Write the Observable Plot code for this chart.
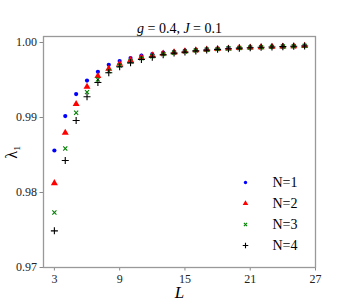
<!DOCTYPE html>
<html><head><meta charset="utf-8">
<script src="https://cdn.jsdelivr.net/npm/d3@7"></script>
<script src="https://cdn.jsdelivr.net/npm/@observablehq/plot@0.6"></script>
<style>body{margin:0;background:#fff} svg{font-family:"Liberation Serif",serif}</style>
</head><body><div id="chart"></div>
<script>
const Ls = [3,4,5,6,7,8,9,10,11,12,13,14,15,16,17,18,19,20,21,22,23,24,25,26];
const n1 = [0.98560,0.99019,0.99312,0.99493,0.99609,0.99703,0.99752,0.99792,0.99827,0.99845,0.99867,0.99876,0.99893,0.99902,0.99910,0.99918,0.99925,0.99930,0.99935,0.99940,0.99944,0.99948,0.99952,0.99957];
const n2 = [0.98125,0.98796,0.99179,0.99409,0.99552,0.99649,0.99717,0.99765,0.99803,0.99828,0.99853,0.99868,0.99884,0.99896,0.99905,0.99914,0.99921,0.99928,0.99933,0.99938,0.99942,0.99946,0.99951,0.99955];
const n3 = [0.97733,0.98587,0.99063,0.99339,0.99507,0.99619,0.99693,0.99748,0.99788,0.99817,0.99845,0.99863,0.99878,0.99893,0.99903,0.99912,0.99920,0.99927,0.99932,0.99937,0.99942,0.99946,0.99950,0.99955];
const n4 = [0.97489,0.98427,0.98960,0.99276,0.99467,0.99596,0.99676,0.99729,0.99773,0.99805,0.99836,0.99859,0.99872,0.99888,0.99899,0.99909,0.99917,0.99925,0.99931,0.99936,0.99941,0.99945,0.99950,0.99954];
const seriesNames = ["N=1","N=2","N=3","N=4"];
const xTicks = [3,9,15,21,27];
const yTicks = [0.97,0.98,0.99,1.00];
const titleText = "g = 0.4, J = 0.1";

const seriesValues = [n1,n2,n3,n4];
const colors = ["#0000ff","#ff0000","#008000","#000000"];
const symbols = ["circle","triangle","times","plus"];
const filled = [true,true,false,false];
const radii = [2.1,2.6,2.0,2.4];

const data = seriesNames.flatMap((s,i)=>Ls.map((L,j)=>({series:s, L, v:seriesValues[i][j]})));

const marks = [];
seriesNames.forEach((s,i)=>{
  const style = filled[i] ? {fill: colors[i], stroke: "none"} : {stroke: colors[i], strokeWidth: 1.1, fill: "none"};
  marks.push(Plot.dot(data.filter(d=>d.series===s), {x:"L", y:"v", symbol: symbols[i], r: radii[i], ...style}));
  marks.push(Plot.dot([s], {frameAnchor:"bottom-right", dx:-70, dy:-85+21*i, symbol: symbols[i], r: radii[i]*0.8, ...style}));
  marks.push(Plot.text([s], {frameAnchor:"bottom-right", dx:-43, dy:-85+21*i, text:d=>d, textAnchor:"start", lineAnchor:"middle", fontSize:14, fill:"#000"}));
});

const chart = Plot.plot({
  width: 350, height: 300,
  marginLeft: 43, marginRight: 35, marginTop: 36, marginBottom: 33,
  style: {fontFamily: "'Liberation Serif', serif", background: "#fff"},
  x: {domain: [2,27]},
  y: {domain: [0.97,1.0008]},
  marks: [
    Plot.axisX({ticks: xTicks, tickSize: 3.5, tickPadding: 3, stroke: "#888", fill: "#222", fontSize: 12, label: "L", labelAnchor: "center", labelArrow: "none", labelOffset: 30}),
    Plot.axisY({ticks: yTicks, tickSize: 3.5, tickPadding: 3, tickFormat: ".2f", stroke: "#888", fill: "#222", fontSize: 12, label: "λ₁", labelAnchor: "center", labelArrow: "none", labelOffset: 38}),
    Plot.frame({stroke: "#999", strokeWidth: 1.3}),
    ...marks,
    Plot.text([titleText], {frameAnchor:"top", lineAnchor:"bottom", dy:-4, text:d=>d, fontSize:14, fill:"#000"})
  ]
});
document.getElementById("chart").append(chart);

// style axis labels and title
const svg = d3.select(chart);
svg.selectAll("text").each(function(){
  const t = d3.select(this);
  const s = t.text();
  if (s === "L") { t.attr("font-style","italic").attr("font-size",17).attr("fill","#000"); }
  if (s === "λ₁") { t.attr("font-size",16).attr("fill","#000"); }
  if (s === titleText) {
    t.text(null);
    t.append("tspan").attr("font-style","italic").text("g");
    t.append("tspan").text(" = 0.4, ");
    t.append("tspan").attr("font-style","italic").text("J");
    t.append("tspan").text(" = 0.1");
  }
});
</script>
</body></html>
